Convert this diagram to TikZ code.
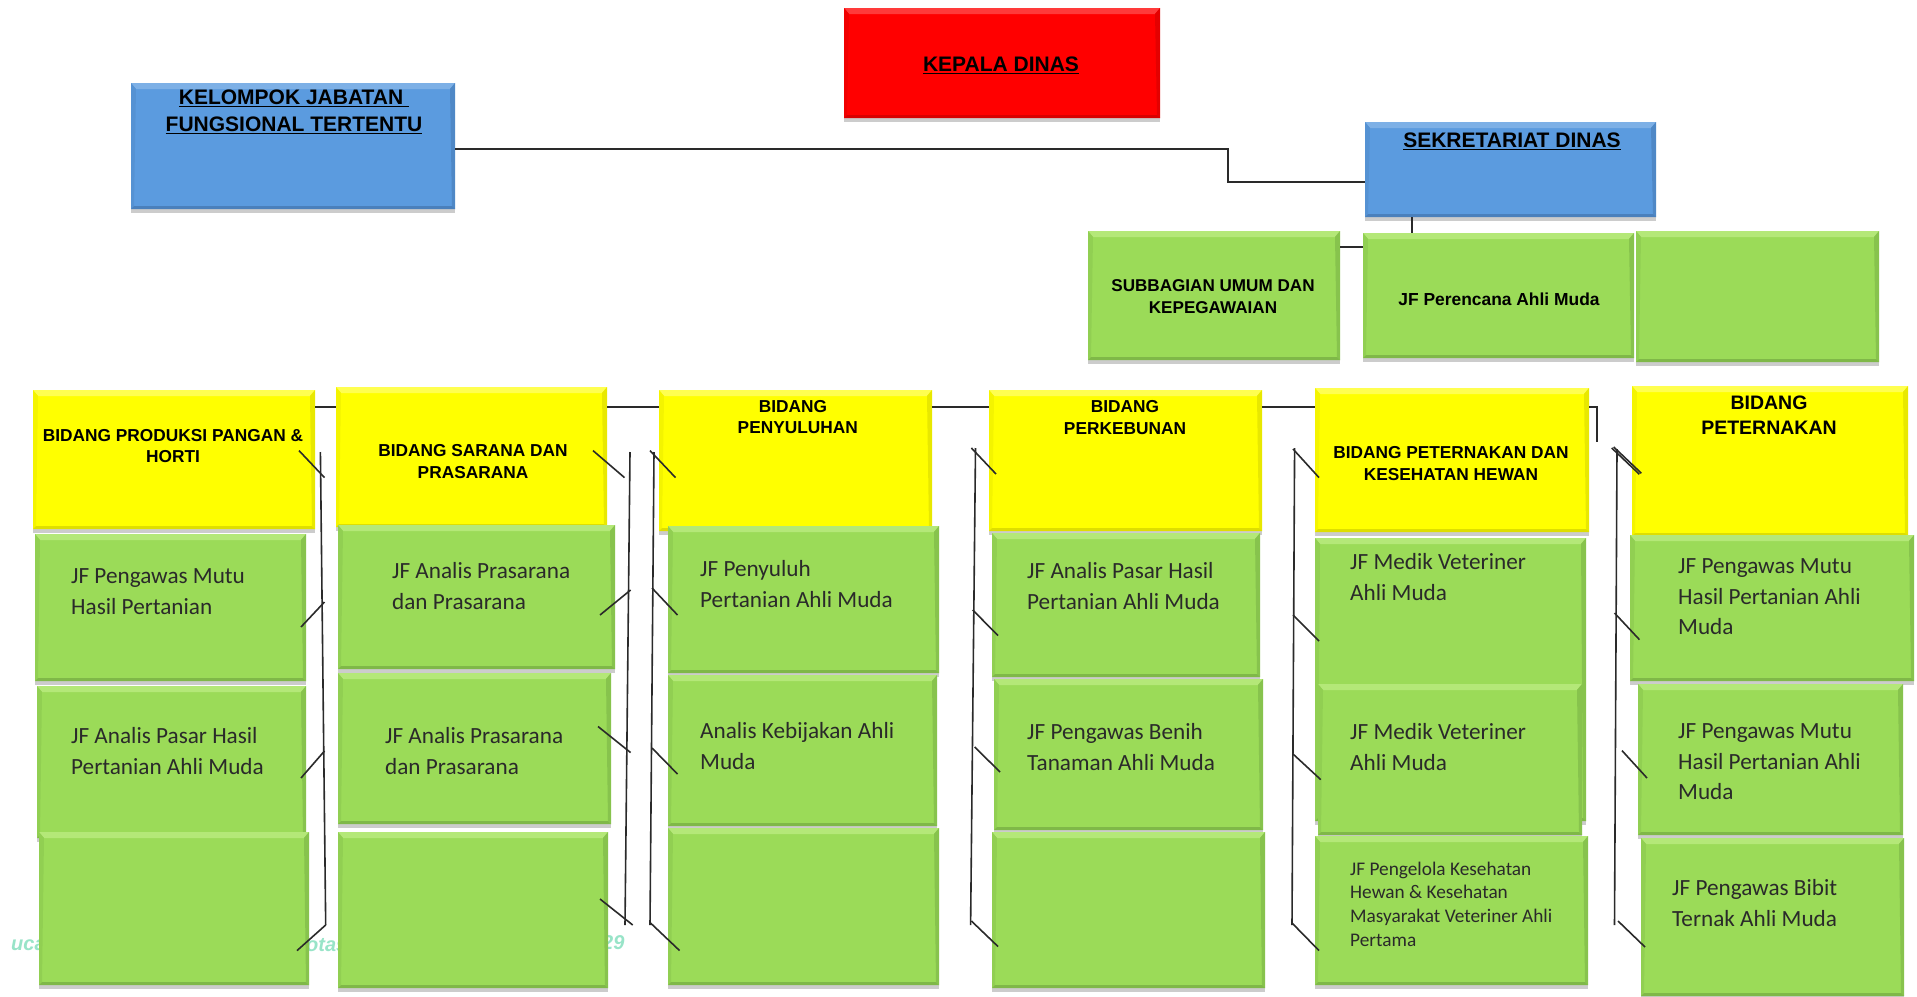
\documentclass[tikz,border=0pt]{standalone}
\usepackage{fontspec}
\setmainfont{Liberation Sans}
\newfontfamily\jffont{Carlito}
\usetikzlibrary{shadows,calc}
\definecolor{gmain}{HTML}{9BDB58}
\definecolor{glight}{HTML}{B4E878}
\definecolor{gdark}{HTML}{7FB848}
\definecolor{ymain}{HTML}{FFFF00}
\definecolor{ylight}{HTML}{FFFF50}
\definecolor{ydark}{HTML}{DEDE00}
\definecolor{bmain}{HTML}{5B9BDF}
\definecolor{blight}{HTML}{7DB0E6}
\definecolor{bdark}{HTML}{4A80BC}
\definecolor{rmain}{HTML}{FF0000}
\definecolor{rlight}{HTML}{FF3A3A}
\definecolor{rdark}{HTML}{D80000}
\definecolor{wmark}{HTML}{98E4C8}
\definecolor{inkc}{HTML}{2A2A2A}
\tikzset{
  bevelbox/.style n args={3}{rectangle,draw=none,inner sep=0pt,outer sep=0pt,fill=#1,
    drop shadow={shadow xshift=0pt,shadow yshift=-4pt,fill=black,opacity=.2},
    path picture={
      \coordinate (nw) at (path picture bounding box.north west);
      \coordinate (ne) at (path picture bounding box.north east);
      \coordinate (sw) at (path picture bounding box.south west);
      \coordinate (se) at (path picture bounding box.south east);
      \fill[#2] (nw) -- (ne) -- ([xshift=-5pt,yshift=-6pt]ne) -- ([xshift=5pt,yshift=-6pt]nw) -- cycle;
      \fill[#3!70!#1] (ne) -- (se) -- ([xshift=-3pt,yshift=3pt]se) -- ([xshift=-5pt,yshift=-6pt]ne) -- cycle;
      \fill[#3!35!#1] (nw) -- (sw) -- ([xshift=3pt,yshift=3pt]sw) -- ([xshift=5pt,yshift=-6pt]nw) -- cycle;
      \fill[#3] (sw) -- (se) -- ([xshift=-3pt,yshift=3pt]se) -- ([xshift=3pt,yshift=3pt]sw) -- cycle;
    }},
  greenbox/.style={bevelbox={gmain}{glight}{gdark}},
  yellowbox/.style={bevelbox={ymain}{ylight}{ydark}},
  bluebox/.style={bevelbox={bmain}{blight}{bdark}},
  redbox/.style={bevelbox={rmain}{rlight}{rdark}},
  conn/.style={draw=inkc,line width=1.6pt},
  jftext/.style={font=\jffont\fontsize{23.2}{31}\selectfont,text=inkc,align=left,anchor=west,inner sep=0pt},
  jftextb/.style={font=\jffont\fontsize{23.2}{30.5}\selectfont,text=inkc,align=left,anchor=west,inner sep=0pt},
  jfsmall/.style={font=\jffont\fontsize{19.3}{23.7}\selectfont,text=inkc,align=left,anchor=west,inner sep=0pt},
  headtext/.style={font=\bfseries\fontsize{17.3}{21}\selectfont,text=black,align=center,inner sep=0pt},
  headtextb/.style={font=\bfseries\fontsize{17.3}{22}\selectfont,text=black,align=center,inner sep=0pt},
  headbig/.style={font=\bfseries\fontsize{19.5}{25.5}\selectfont,text=black,align=center,inner sep=0pt},
  toptext/.style={font=\bfseries\fontsize{21}{27}\selectfont,text=black,align=center,inner sep=0pt},
  wmtext/.style={font=\bfseries\itshape\fontsize{20}{24}\selectfont,text=wmark,inner sep=0pt},
}
% name, x1, y1, x2, y2
\newcommand{\bx}[6]{\node[#1,minimum width={(#5-#3)*1pt},minimum height={(#6-#4)*1pt}] (#2) at ({(#3+#5)/2},{(#4+#6)/2}) {};}
% short connector between two named free ends
\newcommand{\tk}[5]{\coordinate (#1a) at (#2,#3); \coordinate (#1b) at (#4,#5); \draw[conn] (#1a) -- (#1b);}
\begin{document}
\begin{tikzpicture}[x=1pt,y=-1pt]
\useasboundingbox (0,0) rectangle (1917,996);
\fill[white] (0,0) rectangle (1917,996);
% watermark fragments
\node[wmtext,anchor=west] (wa) at (11,945) {ucas};
\node[wmtext,anchor=west] (wb) at (306,945) {otas};
\node[wmtext,anchor=west] (wc) at (602,943) {29};
% top
\bx{redbox}{kadis}{844}{8}{1160}{118}
\bx{bluebox}{kjf}{131}{83}{455}{209}
\bx{bluebox}{sek}{1365}{122}{1656}{217}
\bx{greenbox}{sub}{1088}{231}{1340}{360}
\bx{greenbox}{per}{1363}{233}{1634}{358}
\bx{greenbox}{blk}{1636}{231}{1879}{362}
% yellow
\bx{yellowbox}{ya}{33}{390}{315}{529}
\bx{yellowbox}{yb}{336}{387}{607}{527}
\bx{yellowbox}{yc}{659}{390}{932}{531}
\bx{yellowbox}{yd}{989}{390}{1262}{531}
\bx{yellowbox}{ye}{1315}{388}{1589}{532}
\bx{yellowbox}{yf}{1632}{386}{1908}{536}
% column 1
\bx{greenbox}{ga}{35}{534}{306}{681}
\bx{greenbox}{gb}{37}{686}{306}{838}
\bx{greenbox}{gc}{39}{832}{309}{985}
% column 2
\bx{greenbox}{gd}{338}{525}{615}{669}
\bx{greenbox}{ge}{338}{673}{611}{824}
\bx{greenbox}{gf}{338}{832}{608}{988}
% column 3
\bx{greenbox}{gg}{668}{526}{939}{673}
\bx{greenbox}{gh}{668}{675}{937}{826}
\bx{greenbox}{gi}{668}{828}{939}{985}
% column 4
\bx{greenbox}{gj}{992}{533}{1260}{677}
\bx{greenbox}{gk}{994}{679}{1263}{830}
\bx{greenbox}{gl}{992}{832}{1265}{988}
% column 5
\bx{greenbox}{gm}{1315}{538}{1586}{821}
\bx{greenbox}{gn}{1318}{684}{1582}{835}
\bx{greenbox}{go}{1315}{836}{1588}{985}
% column 6
\bx{greenbox}{gp}{1630}{535}{1914}{681}
\bx{greenbox}{gq}{1638}{684}{1903}{835}
\bx{greenbox}{gr}{1641}{838}{1904}{996}
% connectors at top
\coordinate (ka) at (1228,149);
\coordinate (kb) at (1228,182);
\draw[conn] (kjf.east |- ka) -- (ka) -- (kb) -- (sek.west |- kb);
\coordinate (sa) at (1412,217);
\draw[conn] (sa) -- (sa |- per.north);
\coordinate (sb) at (1340,247);
\draw[conn] (sub.east |- sb) -- (per.west |- sb);
% trunk
\coordinate (tr) at (0,407);
\draw[conn] (ya.east |- tr) -- (yb.west |- tr);
\draw[conn] (yb.east |- tr) -- (yc.west |- tr);
\draw[conn] (yc.east |- tr) -- (yd.west |- tr);
\draw[conn] (yd.east |- tr) -- (ye.west |- tr);
\coordinate (tq) at (1597,407);
\coordinate (tp) at (1597,442);
\draw[conn] (ye.east |- tr) -- (tq) -- (tp);
% column brackets
\tk{va}{320.4}{452}{325.7}{925}
\tk{ta}{299}{450.6}{324.5}{477.6}
\tk{tb}{301}{627}{324.5}{602}
\tk{tc}{301}{778}{324.5}{751}
\tk{td}{297}{950.6}{325.7}{925}
\tk{vb}{630}{452}{625}{925}
\tk{te}{593}{450.6}{624.5}{477.6}
\tk{tf}{600}{615}{630.6}{590}
\tk{tg}{598}{726.5}{630.6}{752.6}
\tk{th}{600}{899}{632.7}{925}
\tk{vc}{654}{452}{650}{925}
\tk{ti}{650}{450.6}{675.5}{477.6}
\tk{tj}{652}{588}{677.5}{615}
\tk{tk}{652}{748}{677.5}{774}
\tk{tl}{650}{922.5}{679.6}{950.6}
\tk{vd}{975.5}{448}{970.6}{925}
\tk{tm}{971.4}{448}{996}{474}
\tk{tn}{972.7}{610}{998}{635.5}
\tk{to}{974.7}{747}{1000}{772}
\tk{tv}{971.4}{921}{998}{946.5}
\tk{ve}{1294.6}{448}{1292}{925}
\tk{tw}{1293}{449}{1319}{477.6}
\tk{tx}{1293}{615}{1319}{641}
\tk{ty}{1293}{754}{1320.7}{779.6}
\tk{tz}{1292}{923}{1319}{950.6}
\tk{vf}{1617}{449}{1614.5}{925}
\tk{ua}{1611.7}{448}{1639.4}{474.3}
\tk{ub}{1613.7}{447}{1641.4}{473.3}
\tk{uc}{1614.5}{613}{1639.4}{639.6}
\tk{ud}{1622}{750.6}{1647}{778}
\tk{ue}{1618}{921}{1645}{947}
% texts
\node[toptext] (xkadis) at (1001,65) {\underline{KEPALA DINAS}};
\node[toptext] (xkjf) at (294,112) {\underline{KELOMPOK JABATAN\ }\\\underline{FUNGSIONAL TERTENTU}};
\node[toptext] (xsek) at (1512,141) {\underline{SEKRETARIAT DINAS}};
\node[font=\bfseries\fontsize{17.1}{22}\selectfont,align=center,inner sep=0pt] (xsub) at (1213,297) {SUBBAGIAN UMUM DAN\\KEPEGAWAIAN};
\node[font=\bfseries\fontsize{17.4}{20}\selectfont,align=center,inner sep=0pt] (xper) at (1499,299) {JF Perencana Ahli Muda};
\node[headtext] (xya) at (173,446) {BIDANG PRODUKSI PANGAN \&\\HORTI};
\node[headtextb] (xyb) at (473,462) {BIDANG SARANA DAN\\PRASARANA};
\node[headtext] (xyc) at (793,417) {BIDANG\\\ \ PENYULUHAN};
\node[headtextb] (xyd) at (1125,418) {BIDANG\\PERKEBUNAN};
\node[headtextb] (xye) at (1451,464) {BIDANG PETERNAKAN DAN\\KESEHATAN HEWAN};
\node[headbig] (xyf) at (1769,415) {BIDANG\\PETERNAKAN};
\node[jftext] (xga) at (71,592) {JF Pengawas Mutu\\Hasil Pertanian};
\node[jftext] (xgb) at (71,751) {JF Analis Pasar Hasil\\Pertanian Ahli Muda};
\node[jftext] (xgd) at (392,586) {JF Analis Prasarana\\dan Prasarana};
\node[jftext] (xge) at (385,751) {JF Analis Prasarana\\dan Prasarana};
\node[jftext] (xgg) at (700,584) {JF Penyuluh\\Pertanian Ahli Muda};
\node[jftext] (xgh) at (700,746) {Analis Kebijakan Ahli\\Muda};
\node[jftext] (xgj) at (1027,586) {JF Analis Pasar Hasil\\Pertanian Ahli Muda};
\node[jftext] (xgk) at (1027,747) {JF Pengawas Benih\\Tanaman Ahli Muda};
\node[jftext] (xgm) at (1350,577) {JF Medik Veteriner\\Ahli Muda};
\node[jftext] (xgn) at (1350,747) {JF Medik Veteriner\\Ahli Muda};
\node[jfsmall] (xgo) at (1350,904) {JF Pengelola Kesehatan\\Hewan \& Kesehatan\\Masyarakat Veteriner Ahli\\Pertama};
\node[jftextb] (xgp) at (1678,597) {JF Pengawas Mutu\\Hasil Pertanian Ahli\\Muda};
\node[jftextb] (xgq) at (1678,762) {JF Pengawas Mutu\\Hasil Pertanian Ahli\\Muda};
\node[jftext] (xgr) at (1672,903) {JF Pengawas Bibit\\Ternak Ahli Muda};
\end{tikzpicture}
\end{document}
